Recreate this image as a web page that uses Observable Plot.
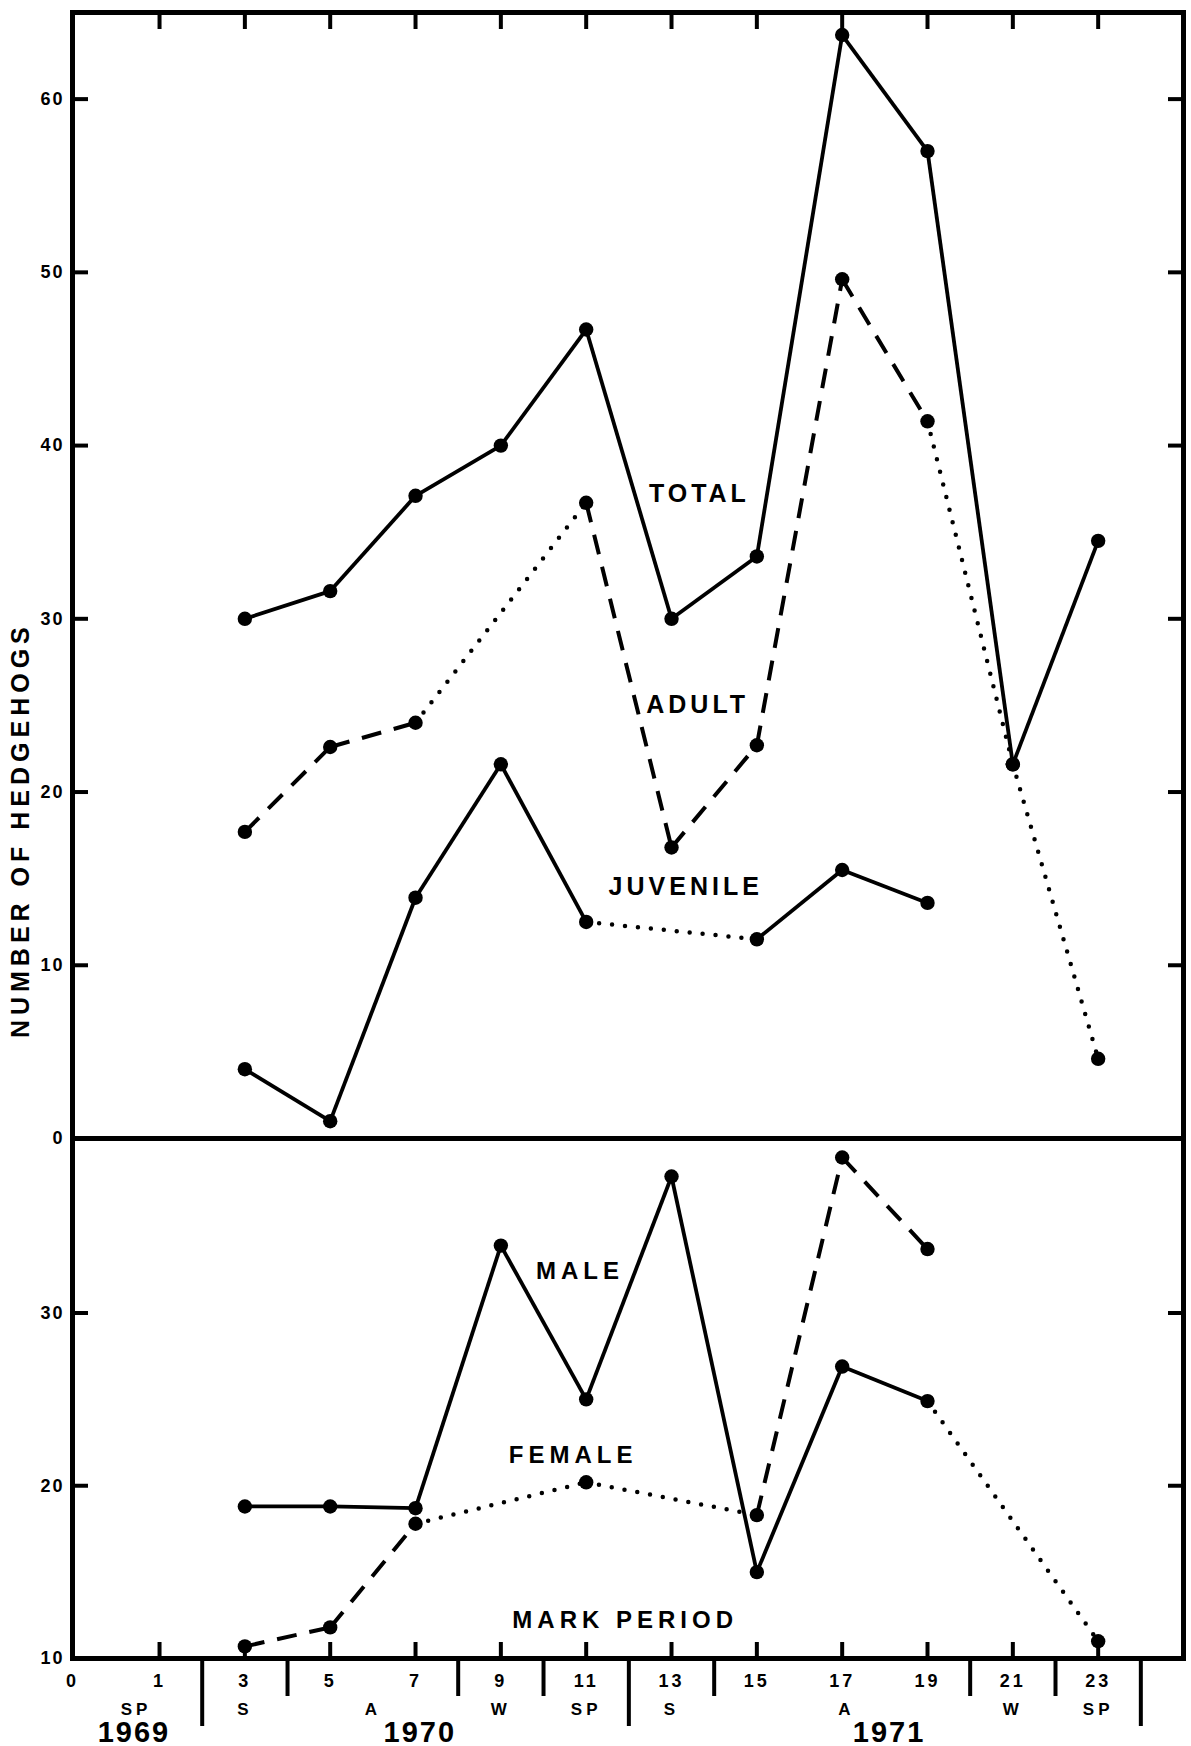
<!DOCTYPE html>
<html><head><meta charset="utf-8">
<script src="https://cdn.jsdelivr.net/npm/d3@7"></script>
<script src="https://cdn.jsdelivr.net/npm/@observablehq/plot@0.6"></script>
<style>
html,body{margin:0;padding:0;background:#fff;}
#chart{position:relative;width:1191px;height:1746px;overflow:hidden;}
#chart svg{display:block;overflow:visible;background:transparent;}
g[aria-label="y-axis tick label"] text{letter-spacing:2px;}
</style></head><body><div id="chart"></div>
<script>
const FONT = "'Liberation Sans', Arial, sans-serif";

// ---- data (mark period vs number of hedgehogs) ----
const totalPeriods = [3,5,7,9,11,13,15,17,19,21,23];
const totalValues  = [30,31.6,37.1,40,46.7,30,33.6,63.7,57,21.6,34.5];
const totalSegStyles = ["solid","solid","solid","solid","solid","solid","solid","solid","solid","solid"];

const adultPeriods = [3,5,7,11,13,15,17,19,21,23];
const adultValues  = [17.7,22.6,24,36.7,16.8,22.7,49.6,41.4,21.6,4.6];
const adultSegStyles = ["dash","dash","dot","dash","dash","dash","dash","dot","dot"];

const juvenilePeriods = [3,5,7,9,11,15,17,19];
const juvenileValues  = [4,1,13.9,21.6,12.5,11.5,15.5,13.6];
const juvenileSegStyles = ["solid","solid","solid","solid","dot","solid","solid"];

const malePeriods = [3,5,7,9,11,13,15,17,19,23];
const maleValues  = [18.8,18.8,18.7,33.9,25,37.9,15,26.9,24.9,11];
const maleSegStyles = ["solid","solid","solid","solid","solid","solid","solid","solid","dot"];

const femalePeriods = [3,5,7,11,15,17,19];
const femaleValues  = [10.7,11.8,17.8,20.2,18.3,39,33.7];
const femaleSegStyles = ["dash","dash","dot","dot","dash","dash"];

// in-plot labels
const upperLabels = ["TOTAL","ADULT","JUVENILE"];
const upperLabelX = [13.7,13.66,13.38];
const upperLabelY = [37.2,25.0,14.5];
const lowerLabels = ["MALE","FEMALE","MARK PERIOD"];
const lowerLabelX = [10.9,10.74,11.96];
const lowerLabelY = [32.4,21.75,12.2];

// axes
const xDomain = [-1.04, 25];
const oddTicks = [1,3,5,7,9,11,13,15,17,19,21,23];
const xTickLabels = ["0","1","3","5","7","9","11","13","15","17","19","21","23"];
const xTickPositions = [xDomain[0],1,3,5,7,9,11,13,15,17,19,21,23];
const seasonLabels = ["SP","S","A","W","SP","S","A","W","SP"];
const seasonPositions = [0.45,3,6,9,11,13,17.1,21,23];
const yearLabels = ["1969","1970","1971"];
const yearPositions = [0.4,7.1,18.1];
const seasonBreaks = [4,8,10,14,20,22];
const yearBreaks = [2,12,24];
const upperYTicks = [10,20,30,40,50,60];
const upperYLabels = [0,10,20,30,40,50,60];
const lowerYTicks = [20,30];
const lowerYLabels = [10,20,30];
const yTitle = "NUMBER OF HEDGEHOGS";
const yTitleAt = 17.8;

// ---- build tables ----
function pts(name, ps, vs){ return ps.map((p,i)=>({series:name, period:p, value:vs[i]})); }
function segs(name, ps, vs, st){ return st.map((s,i)=>({series:name, style:s, x1:ps[i], y1:vs[i], x2:ps[i+1], y2:vs[i+1]})); }

const upperPoints = [...pts("TOTAL",totalPeriods,totalValues), ...pts("ADULT",adultPeriods,adultValues), ...pts("JUVENILE",juvenilePeriods,juvenileValues)];
const upperSegs = [...segs("TOTAL",totalPeriods,totalValues,totalSegStyles), ...segs("ADULT",adultPeriods,adultValues,adultSegStyles), ...segs("JUVENILE",juvenilePeriods,juvenileValues,juvenileSegStyles)];
const lowerPoints = [...pts("MALE",malePeriods,maleValues), ...pts("FEMALE",femalePeriods,femaleValues)];
const lowerSegs = [...segs("MALE",malePeriods,maleValues,maleSegStyles), ...segs("FEMALE",femalePeriods,femaleValues,femaleSegStyles)];

function lineMarks(sg){
  return [
    Plot.link(sg.filter(d=>d.style==="solid"), {x1:"x1",y1:"y1",x2:"x2",y2:"y2",stroke:"black",strokeWidth:3.8}),
    Plot.link(sg.filter(d=>d.style==="dash"), {x1:"x1",y1:"y1",x2:"x2",y2:"y2",stroke:"black",strokeWidth:4,strokeDasharray:"20,13"}),
    Plot.link(sg.filter(d=>d.style==="dot"), {x1:"x1",y1:"y1",x2:"x2",y2:"y2",stroke:"black",strokeWidth:4.5,strokeDasharray:"0,13",strokeLinecap:"round"})
  ];
}
const txt = {fontFamily: FONT, fontWeight: "bold", fill: "black"};

const common = {width:1191, marginLeft:72, marginRight:8, style:{background:"transparent", overflow:"visible", fontFamily:FONT, color:"black"}};

const upper = Plot.plot({
  ...common,
  height: 1138, marginTop: 12, marginBottom: 0,
  x: {domain: xDomain, axis: null},
  y: {domain: [0, 65], axis: null},
  marks: [
    ...lineMarks(upperSegs),
    Plot.dot(upperPoints, {x:"period", y:"value", r:7.2, fill:"black"}),
    Plot.text(upperLabels, {x:(d,i)=>upperLabelX[i], y:(d,i)=>upperLabelY[i], text:d=>d, fontSize:25, dx:-2, ...txt}),
    Plot.axisX({anchor:"top", ticks: oddTicks, tickSize:-16, strokeWidth:4, tickFormat:()=> "", label:null}),
    Plot.axisY({anchor:"left", ticks: upperYTicks, tickSize:-16, strokeWidth:4, tickFormat:()=> "", label:null}),
    Plot.axisY({anchor:"right", ticks: upperYTicks, tickSize:-16, strokeWidth:4, tickFormat:()=> "", label:null}),
    Plot.axisY({anchor:"left", ticks: upperYLabels, tickSize:0, tickPadding:8, fontSize:18, label:null, ...txt}),
    Plot.text([yTitle], {y:()=>yTitleAt, frameAnchor:"left", textAnchor:"middle", dx:-52, rotate:-90, fontSize:25, text:d=>d, ...txt}),
    Plot.frame({stroke:"black", strokeWidth:5})
  ]
});

const lower = Plot.plot({
  ...common,
  height: 608, marginTop: 0, marginBottom: 88,
  x: {domain: xDomain, axis: null},
  y: {domain: [10, 40.1], axis: null},
  marks: [
    ...lineMarks(lowerSegs),
    Plot.dot(lowerPoints, {x:"period", y:"value", r:7.2, fill:"black"}),
    Plot.text(lowerLabels, {x:(d,i)=>lowerLabelX[i], y:(d,i)=>lowerLabelY[i], text:d=>d, fontSize:24, dx:-2, ...txt}),
    Plot.axisX({anchor:"bottom", ticks: oddTicks, tickSize:-16, strokeWidth:4, tickFormat:()=> "", label:null}),
    Plot.axisX({anchor:"bottom", ticks: seasonBreaks, tickSize:38, strokeWidth:4, tickFormat:()=> "", label:null}),
    Plot.axisX({anchor:"bottom", ticks: yearBreaks, tickSize:68, strokeWidth:4, tickFormat:()=> "", label:null}),
    Plot.axisY({anchor:"left", ticks: lowerYTicks, tickSize:-16, strokeWidth:4, tickFormat:()=> "", label:null}),
    Plot.axisY({anchor:"right", ticks: lowerYTicks, tickSize:-16, strokeWidth:4, tickFormat:()=> "", label:null}),
    Plot.axisY({anchor:"left", ticks: lowerYLabels, tickSize:0, tickPadding:8, fontSize:18, label:null, ...txt}),
    Plot.text(xTickLabels, {x:(d,i)=>xTickPositions[i], text:d=>d, frameAnchor:"bottom", dy:28, fontSize:18, ...txt}),
    Plot.text(seasonLabels, {x:(d,i)=>seasonPositions[i], text:d=>d, frameAnchor:"bottom", dy:56, fontSize:17, ...txt}),
    Plot.text(yearLabels, {x:(d,i)=>yearPositions[i], text:d=>d, frameAnchor:"bottom", dy:83, fontSize:29, ...txt}),
    Plot.frame({stroke:"black", strokeWidth:5})
  ]
});

// letter spacing for the text marks, in mark order
function spaceTexts(svg, spacings){
  svg.querySelectorAll('g[aria-label="text"]').forEach((g,i)=>{
    if (spacings[i] != null) g.style.letterSpacing = spacings[i] + "px";
  });
}
spaceTexts(upper, [4, 5]);
spaceTexts(lower, [5, 3, 4, 2]);

const chart = document.getElementById("chart");
chart.appendChild(upper);
chart.appendChild(lower);
</script></body></html>
